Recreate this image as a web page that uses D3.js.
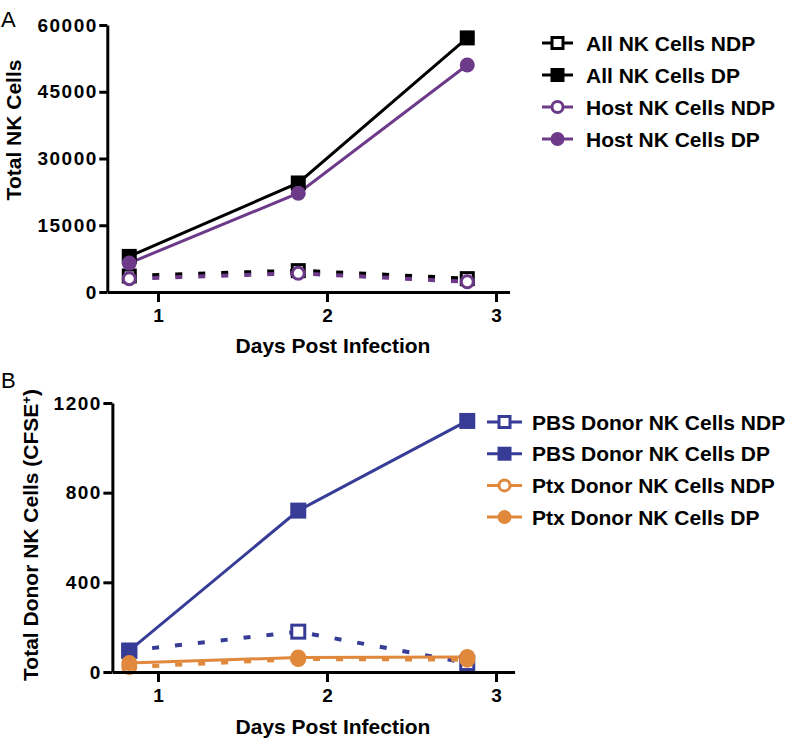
<!DOCTYPE html>
<html><head><meta charset="utf-8">
<script src="https://cdn.jsdelivr.net/npm/d3@7"></script>
<style>
body{margin:0;background:#fff;}
svg{display:block;font-family:"Liberation Sans",Arial,sans-serif;}
</style></head>
<body><svg id="c" width="792" height="740"></svg>
<script>
const days = [0.83, 1.83, 2.83];
const xTicks = [1, 2, 3];
// Panel A
const allNDP = [3600, 4800, 3000];
const allDP = [8000, 24500, 57100];
const hostNDP = [3000, 4200, 2300];
const hostDP = [6500, 22200, 51000];
const yTicksA = [0, 15000, 30000, 45000, 60000];
// Panel B
const pbsNDP = [95, 180, 40];
const pbsDP = [95, 720, 1120];
const ptxNDP = [22, 58, 55];
const ptxDP = [40, 65, 67];
const yTicksB = [0, 400, 800, 1200];

const BLACK = "#000", PURPLE = "#6c3a88", BLUE = "#373c97", ORANGE = "#e0883c";

const svg = d3.select("#c");

function panel(cfg) {
  const g = svg.append("g");
  const x = d3.scaleLinear().domain(cfg.xDomain).range(cfg.xRange);
  const y = d3.scaleLinear().domain(cfg.yDomain).range(cfg.yRange);
  const line = d3.line().x(d => x(d[0])).y(d => y(d[1]));

  cfg.series.forEach(s => {
    g.append("path").datum(days.map((d, i) => [d, s.values[i]]))
      .attr("d", line).attr("fill", "none").attr("stroke", s.color)
      .attr("stroke-width", s.dash ? 4 : 3)
      .attr("stroke-dasharray", s.dash ? "7,16" : null);
  });
  cfg.series.forEach(s => {
    const pts = days.map((d, i) => [d, s.values[i]]);
    drawMarkers(g, pts.map(p => [x(p[0]), y(p[1])]), s, cfg.msize);
  });

  const ax = g.append("g").attr("transform", `translate(0,${cfg.yRange[0]})`)
    .call(d3.axisBottom(x).tickValues(xTicks).tickFormat(d3.format("d")).tickSizeInner(10).tickSizeOuter(0).tickPadding(7));
  const ay = g.append("g").attr("transform", `translate(${cfg.xRange[0]},0)`)
    .call(d3.axisLeft(y).tickValues(cfg.yTicks).tickFormat(d3.format("d")).tickSizeInner(cfg.ytick).tickSizeOuter(0).tickPadding(3));
  [ax, ay].forEach(a => {
    a.select(".domain").attr("stroke", "#000").attr("stroke-width", 3);
    a.selectAll(".tick line").attr("stroke", "#000").attr("stroke-width", 3);
    a.selectAll(".tick text").attr("fill", "#000").attr("font-size", 19).attr("font-weight", "bold")
      .attr("font-family", '"Liberation Sans",Arial,sans-serif');
  });
  ay.selectAll(".tick text").style("letter-spacing", "1.5px").attr("dx", 1.5);

  g.append("text").attr("x", 333).attr("y", cfg.xTitleY).attr("text-anchor", "middle")
    .attr("font-size", 21).attr("font-weight", "bold").text("Days Post Infection");
  const yt = g.append("text").attr("transform", `translate(${cfg.yTitleX},${cfg.yTitleY}) rotate(-90)`)
    .attr("text-anchor", "middle").attr("font-size", 21).attr("font-weight", "bold");
  yt.append("tspan").text(cfg.yTitle);
  if (cfg.yTitleSup) {
    yt.append("tspan").attr("font-size", 13).attr("baseline-shift", "super").text("+");
    yt.append("tspan").text(")");
  }
  g.append("text").attr("x", 1).attr("y", cfg.letterY).attr("font-size", 22).text(cfg.letter);

  cfg.series.forEach((s, i) => {
    const cy = cfg.leg.y0 + i * cfg.leg.dy;
    g.append("line").attr("x1", cfg.leg.x1).attr("x2", cfg.leg.x2).attr("y1", cy).attr("y2", cy)
      .attr("stroke", s.color).attr("stroke-width", 3);
    drawMarkers(g, [[(cfg.leg.x1 + cfg.leg.x2) / 2, cy]], s, cfg.lsize);
    g.append("text").attr("x", cfg.leg.tx).attr("y", cy + 7.5).attr("font-size", 21)
      .attr("font-weight", "bold").text(s.name);
  });
}

function drawMarkers(g, pts, s, size) {
  pts.forEach(p => {
    if (s.shape === "square") {
      const w = s.open ? size - 3 : size;
      g.append("rect").attr("x", p[0] - w / 2).attr("y", p[1] - w / 2).attr("width", w).attr("height", w)
        .attr("fill", s.open ? "#fff" : s.color).attr("stroke", s.color).attr("stroke-width", s.open ? 3 : 0);
    } else {
      const r = s.open ? size / 2 - 1.5 : size / 2;
      g.append("circle").attr("cx", p[0]).attr("cy", p[1]).attr("r", r)
        .attr("fill", s.open ? "#fff" : s.color).attr("stroke", s.color).attr("stroke-width", s.open ? 3 : 0);
    }
  });
}

const pxPerDay = 169, x1px = 158;
const xr = d => x1px + (d - 1) * pxPerDay;

panel({
  xDomain: [0.7, 3.08], xRange: [xr(0.7), xr(3.08)],
  yDomain: [0, 60000], yRange: [292, 25], yTicks: yTicksA, ytick: 8,
  msize: 15, lsize: 14,
  series: [
    {name: "All NK Cells NDP", values: allNDP, color: BLACK, shape: "square", open: true, dash: true},
    {name: "All NK Cells DP", values: allDP, color: BLACK, shape: "square", open: false, dash: false},
    {name: "Host NK Cells NDP", values: hostNDP, color: PURPLE, shape: "circle", open: true, dash: true},
    {name: "Host NK Cells DP", values: hostDP, color: PURPLE, shape: "circle", open: false, dash: false}
  ],
  xTitleY: 353, yTitleX: 21, yTitleY: 130, yTitle: "Total NK Cells",
  letter: "A", letterY: 27,
  leg: {x1: 542, x2: 573, tx: 586, y0: 43, dy: 32}
});

panel({
  xDomain: [0.73, 3.11], xRange: [xr(0.73), xr(3.11)],
  yDomain: [0, 1200], yRange: [672, 403], yTicks: yTicksB, ytick: 9,
  msize: 16, lsize: 14,
  series: [
    {name: "PBS Donor NK Cells NDP", values: pbsNDP, color: BLUE, shape: "square", open: true, dash: true},
    {name: "PBS Donor NK Cells DP", values: pbsDP, color: BLUE, shape: "square", open: false, dash: false},
    {name: "Ptx Donor NK Cells NDP", values: ptxNDP, color: ORANGE, shape: "circle", open: true, dash: true},
    {name: "Ptx Donor NK Cells DP", values: ptxDP, color: ORANGE, shape: "circle", open: false, dash: false}
  ],
  xTitleY: 734, yTitleX: 38, yTitleY: 535, yTitle: "Total Donor NK Cells (CFSE", yTitleSup: true,
  letter: "B", letterY: 388,
  leg: {x1: 487, x2: 522, tx: 532, y0: 422, dy: 31.7}
});
</script></body></html>
